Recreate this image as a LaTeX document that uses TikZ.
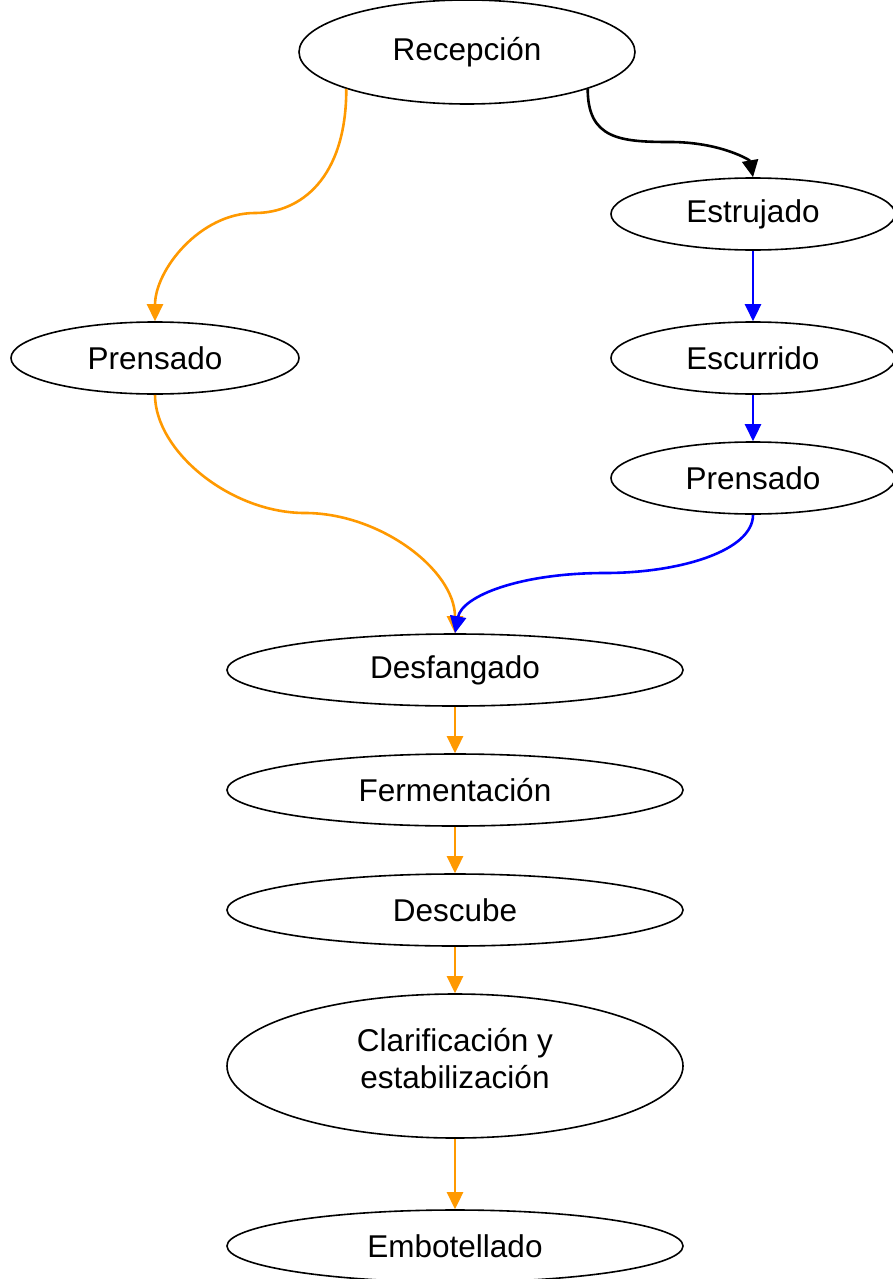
\documentclass[tikz,border=0pt]{standalone}
\usepackage{fontspec}
\setmainfont{Liberation Sans}
\usetikzlibrary{shapes.geometric,arrows.meta}
\definecolor{orng}{HTML}{FF9900}
\definecolor{blu}{HTML}{0000FF}
\begin{document}
\begin{tikzpicture}[x=1pt,y=-1pt,
  stage/.style={ellipse,draw=black,line width=1.6pt,inner sep=0pt,align=center,
    font=\fontsize{31.5}{37}\selectfont},
  conn/.style={line width=2.6pt,-{Triangle[length=17pt,width=16pt]}},
  oc/.style={conn,draw=orng},
  bc/.style={conn,draw=blu},
  kc/.style={conn,draw=black}]
\useasboundingbox (0,0) rectangle (893,1279);
\node[stage,minimum width=336pt,minimum height=104pt] (rec) at (467,52) {Recepción};
\node[stage,minimum width=284pt,minimum height=72pt] (est) at (753,214) {Estrujado};
\node[stage,minimum width=284pt,minimum height=72pt] (esc) at (753,358) {Escurrido};
\node[stage,minimum width=284pt,minimum height=72pt] (prr) at (753,478) {Prensado};
\node[stage,minimum width=288pt,minimum height=72pt] (prl) at (155,358) {Prensado};
\node[stage,minimum width=456pt,minimum height=72pt] (des) at (455,670) {Desfangado};
\node[stage,minimum width=456pt,minimum height=72pt] (fer) at (455,790) {Fermentación};
\node[stage,minimum width=456pt,minimum height=72pt] (dsc) at (455,910) {Descube};
\node[stage,minimum width=456pt,minimum height=144pt,text depth=16pt] (cla) at (455,1066) {Clarificación y\\estabilización};
\node[stage,minimum width=456pt,minimum height=72pt] (emb) at (455,1246) {Embotellado};
% curved connectors
\coordinate (r1) at (rec.-17);
\coordinate (r2) at (rec.-163);
\draw[kc] (r1) .. controls ++(0,50) and (620,142) .. (670,142) .. controls (720,142) and (750,160) .. (est.north);
\draw[oc] (r2) .. controls ++(0,90) and (300,213) .. (255,213) .. controls (200,213) and (155,270) .. (prl.north);
\draw[oc] (prl.south) .. controls ++(0,56) and (230,513) .. (305,513) .. controls (380,513) and (455,570) .. (des.north);
\draw[bc] (prr.south) .. controls ++(0,36) and (680,573) .. (605,573) .. controls (520,573) and (462,596) .. (des.north);
% straight connectors
\draw[bc] (est) -- (esc);
\draw[bc] (esc) -- (prr);
\draw[oc] (des) -- (fer);
\draw[oc] (fer) -- (dsc);
\draw[oc] (dsc) -- (cla);
\draw[oc] (cla) -- (emb);
\end{tikzpicture}
\end{document}
